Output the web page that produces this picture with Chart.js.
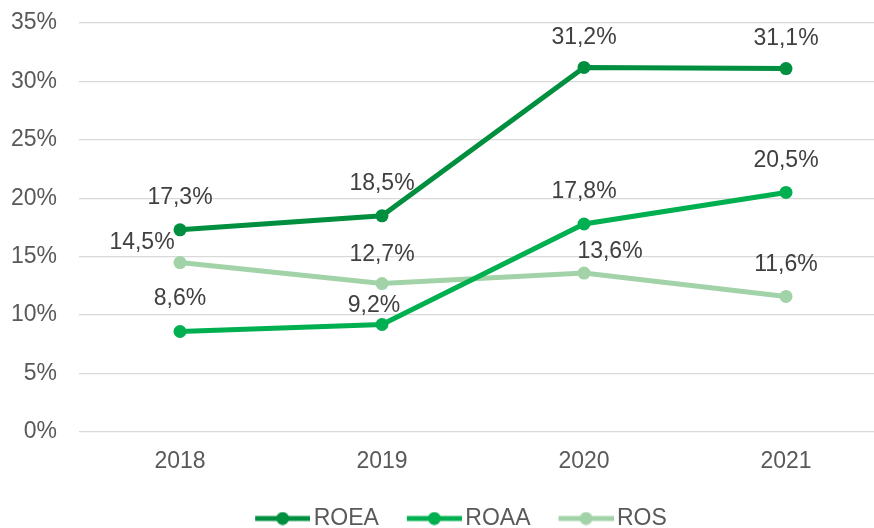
<!DOCTYPE html>
<html>
<head>
<meta charset="utf-8">
<script src="https://cdn.jsdelivr.net/npm/chart.js@4.4.1/dist/chart.umd.min.js"></script>
<style>
html,body{margin:0;padding:0;background:#fff;overflow:hidden;width:874px;height:528px;}
#wrap{position:absolute;left:0;top:0;width:922px;height:540px;}
</style>
</head>
<body>
<div id="wrap"><canvas id="c" width="922" height="540"></canvas></div>
<script>
const categories = ['2018', '2019', '2020', '2021'];
const seriesNames = ['ROEA', 'ROAA', 'ROS'];
const roea = [17.3, 18.5, 31.2, 31.1];
const roaa = [8.6, 9.2, 17.8, 20.5];
const ros = [14.5, 12.7, 13.6, 11.6];
const yMin = 0, yMax = 35, yStep = 5;

const colors = ['#008F3F', '#00B050', '#A2D3A8'];
const FONT = '"Liberation Sans", Arial, sans-serif';
const FS = 23;

function legendImg(color) {
  const c = document.createElement('canvas');
  c.width = 80; c.height = 14;
  const g = c.getContext('2d');
  g.strokeStyle = color; g.lineWidth = 5;
  g.beginPath(); g.moveTo(25, 7); g.lineTo(80, 7); g.stroke();
  g.fillStyle = color;
  g.beginPath(); g.arc(52.5, 7, 6.5, 0, Math.PI * 2); g.fill();
  return c;
}
const legendImgs = colors.map(legendImg);

function fmt(v) { return v.toFixed(1).replace('.', ',') + '%'; }

const labelPlugin = {
  id: 'ptLabels',
  afterLayout(chart, args, opts) {
    const l = chart.legend;
    if (l) { l.left += opts.legendShift; l.right += opts.legendShift; }
  },
  afterDatasetsDraw(chart, args, opts) {
    const ctx = chart.ctx;
    ctx.save();
    ctx.font = FS + 'px ' + FONT;
    ctx.fillStyle = '#404040';
    ctx.textAlign = 'center';
    ctx.textBaseline = 'middle';
    chart.data.datasets.forEach((ds, i) => {
      const meta = chart.getDatasetMeta(i);
      meta.data.forEach((pt, j) => {
        const off = (opts.offsets[i] || [])[j] || [0, -32];
        ctx.fillText(fmt(ds.data[j]), pt.x + off[0], pt.y + off[1]);
      });
    });
    ctx.restore();
  }
};

const seriesData = [roea, roaa, ros];
new Chart(document.getElementById('c'), {
  type: 'line',
  data: {
    labels: categories,
    datasets: seriesNames.map((n, i) => ({
      label: n,
      data: seriesData[i],
      borderColor: colors[i],
      backgroundColor: colors[i],
      pointBackgroundColor: colors[i],
      pointBorderColor: colors[i],
      borderWidth: 5,
      pointRadius: 6.5,
      pointBorderWidth: 0,
      tension: 0,
      fill: false
    }))
  },
  options: {
    responsive: false,
    animation: false,
    events: [],
    layout: { autoPadding: false, padding: { left: 0, top: 23, right: 35, bottom: 0 } },
    scales: {
      x: {
        offset: true,
        grid: { display: false, drawTicks: false },
        border: { display: false },
        ticks: { color: '#595959', font: { size: FS, family: FONT }, padding: 16 },
        afterFit(s) { s.height = 64; s.paddingLeft = 0; s.paddingRight = 0; }
      },
      y: {
        min: yMin, max: yMax,
        grid: { color: '#D9D9D9', lineWidth: 1.3, drawTicks: false },
        border: { display: false },
        ticks: { stepSize: yStep, color: '#595959', font: { size: FS, family: FONT }, padding: 22,
                 callback: v => v + '%' },
        afterFit(s) { s.width = 79; s.paddingTop = 0; s.paddingBottom = 0; }
      }
    },
    plugins: {
      tooltip: { enabled: false },
      legend: {
        position: 'bottom',
        labels: {
          usePointStyle: true,
          pointStyleWidth: 64,
          padding: 11,
          color: '#595959',
          font: { size: FS, family: FONT },
          generateLabels(chart) {
            const items = Chart.defaults.plugins.legend.labels.generateLabels(chart);
            items.forEach(it => { it.pointStyle = legendImgs[it.datasetIndex]; it.lineWidth = 0; });
            return items;
          }
        }
      },
      ptLabels: {
        legendShift: 9,
        offsets: [
          [[0, -32], [0, -32], [0, -30], [0, -30]],
          [[0, -33], [-8, -19], [0, -32], [0, -32]],
          [[-38, -20], [0, -29], [26, -21], [0, -32]]
        ]
      }
    }
  },
  plugins: [labelPlugin]
});
</script>
</body>
</html>
